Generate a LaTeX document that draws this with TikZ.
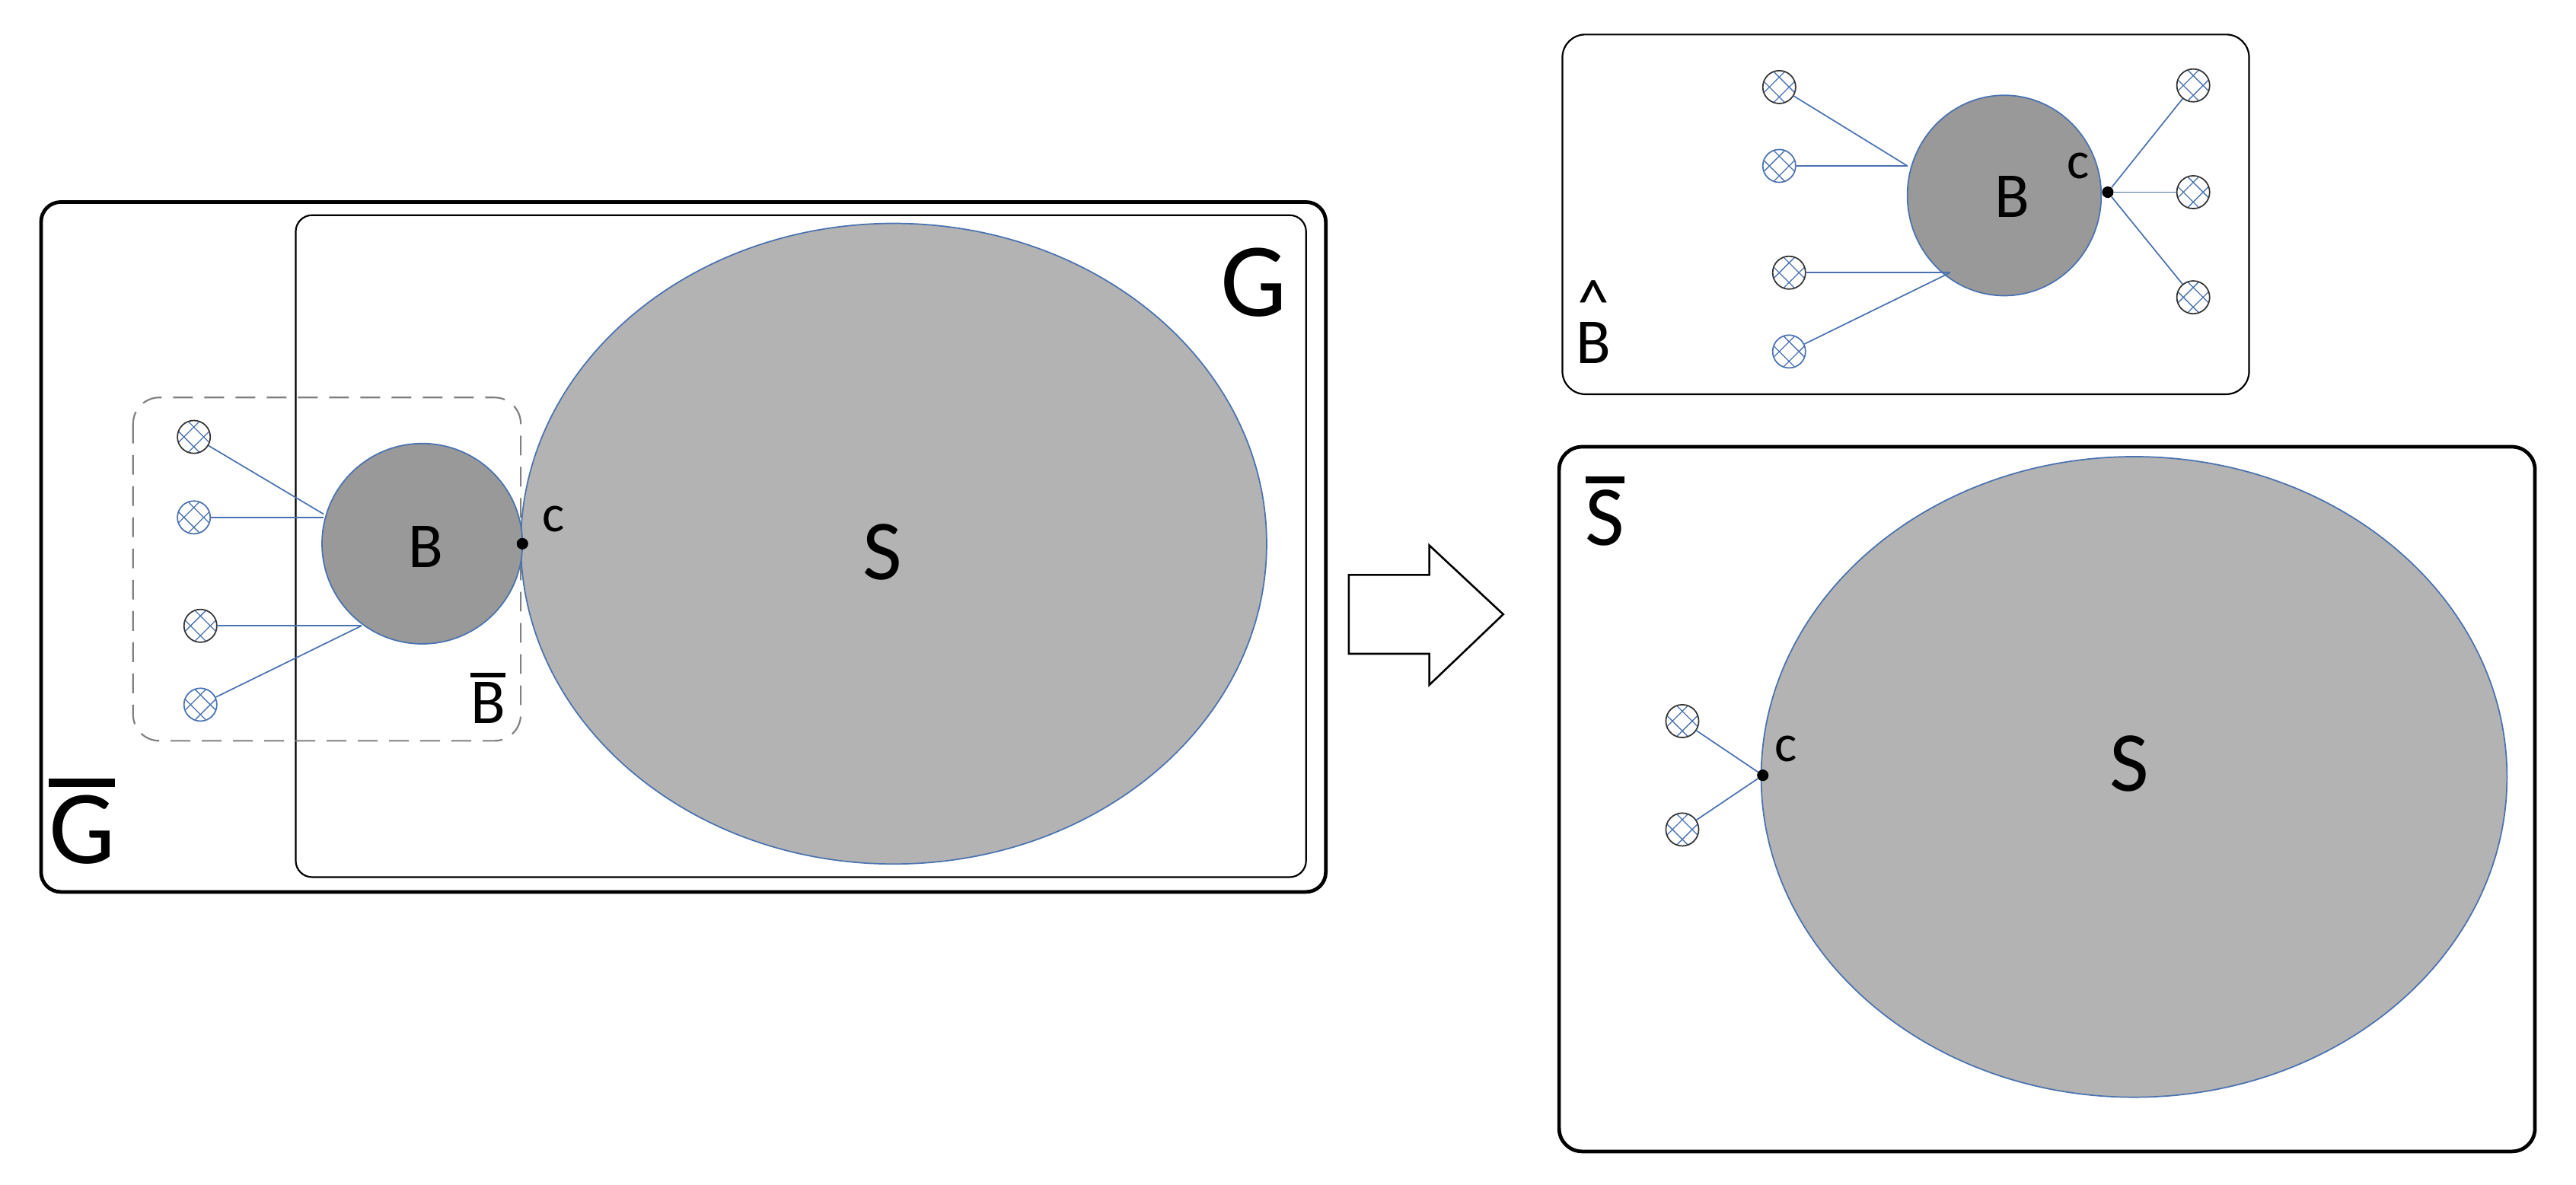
\documentclass[tikz,border=0pt]{standalone}
\usepackage{fontspec}
\setmainfont{Carlito}
\usetikzlibrary{shapes.geometric}
\definecolor{edgeblue}{HTML}{4A72B0}
\definecolor{sgray}{HTML}{B3B3B3}
\definecolor{bgray}{HTML}{999999}
\newcommand{\ovl}[1]{\leavevmode\setbox0\hbox{#1}\rlap{\raisebox{1.12\ht0}{\rule{\wd0}{0.08em}}}\box0}
\newcommand{\hatl}[1]{\leavevmode\setbox0\hbox{#1}\rlap{\makebox[\wd0]{\raisebox{0.95\ht0}{\^{}}}}\box0}
\tikzset{
  hatch/.style={circle,draw=#1,minimum size=20pt,inner sep=0pt,line width=0.8pt,
    path picture={\begin{scope}[shift={(path picture bounding box.center)}]
      \foreach \d in {-6,6}{\draw[edgeblue,line width=0.6pt] (-15+\d,-15) -- (15+\d,15);
                             \draw[edgeblue,line width=0.6pt] (-15+\d,15) -- (15+\d,-15);}
    \end{scope}}},
  link/.style={edgeblue,line width=0.8pt},
  lbl/.style={inner sep=0pt,text=black},
  dot/.style={circle,fill=black,inner sep=0pt,minimum size=7pt},
}
\begin{document}
\begin{tikzpicture}[x=1pt,y=-1pt]
\useasboundingbox (0,0) rectangle (1568,721);
% left part
\draw[line width=2.2pt,rounded corners=12pt] (25,123) rectangle (807,543);
\draw[line width=1pt,rounded corners=10pt] (180,131) rectangle (795,534);
\draw[gray,dashed,dash pattern=on 12pt off 7pt,line width=1pt,rounded corners=16pt] (81,242) rectangle (317,451);
\node[ellipse,draw=edgeblue,fill=sgray,minimum width=454pt,minimum height=390pt,inner sep=0pt,line width=0.8pt] (S1) at (544,331) {};
\node[circle,draw=edgeblue,fill=bgray,minimum size=122pt,inner sep=0pt,line width=0.8pt] (B1) at (257,331) {};
\node[dot] (c1) at (318,331) {};
\node[lbl,font=\fontsize{32}{32}\selectfont] at (337,316) {c};
\node[lbl,font=\fontsize{39}{39}\selectfont] at (259,333) {B};
\node[lbl,font=\fontsize{52}{52}\selectfont] at (537,336) {S};
\node[lbl,font=\fontsize{64}{64}\selectfont] at (763,172) {G};
\node[lbl,font=\fontsize{64}{64}\selectfont] at (50,500) {\ovl{G}};
\node[lbl,font=\fontsize{39}{39}\selectfont] at (297,425) {\ovl{B}};
\node[hatch=black!80] (a1) at (118,266) {};
\node[hatch=edgeblue] (a2) at (118,315) {};
\node[hatch=black!80] (a3) at (122,381) {};
\node[hatch=edgeblue] (a4) at (122,429) {};
\coordinate (p1) at (197,313);
\coordinate (p2) at (220,381);
\draw[link] (a1) -- (p1); \draw[link] (a2) -- (a2 -| p1);
\draw[link] (a3) -- (p2); \draw[link] (a4) -- (p2);
% arrow
\draw[line width=1.2pt,fill=white,line join=miter] (821,350) -- (870,350) -- (870,332) -- (915,374) -- (870,417) -- (870,398) -- (821,398) -- cycle;
% top right
\draw[line width=1pt,rounded corners=14pt] (951,21) rectangle (1369,240);
\node[ellipse,draw=edgeblue,fill=bgray,minimum width=118pt,minimum height=122pt,inner sep=0pt,line width=0.8pt] (B2) at (1220,119) {};
\node[dot] (c2) at (1283,117) {};
\node[lbl,font=\fontsize{32}{32}\selectfont] at (1265,101) {c};
\node[lbl,font=\fontsize{39}{39}\selectfont] at (1225,120) {B};
\node[lbl,font=\fontsize{39}{39}\selectfont] at (970,196) {\hatl{B}};
\node[hatch=black!80] (d1) at (1083,53) {};
\node[hatch=edgeblue] (d2) at (1083,101) {};
\node[hatch=black!80] (d3) at (1089,166) {};
\node[hatch=edgeblue] (d4) at (1089,214) {};
\node[hatch=black!80] (e1) at (1335,52) {};
\node[hatch=black!80] (e2) at (1335,117) {};
\node[hatch=black!80] (e3) at (1335,181) {};
\coordinate (q1) at (1161,101);
\coordinate (q2) at (1187,166);
\draw[link] (d1) -- (q1); \draw[link] (d2) -- (q1);
\draw[link] (d3) -- (q2); \draw[link] (d4) -- (q2);
\draw[link] (c2) -- (e1); \draw[link] (c2) -- (e2); \draw[link] (c2) -- (e3);
% bottom right
\draw[line width=2.2pt,rounded corners=14pt] (949,272) rectangle (1543,701);
\node[ellipse,draw=edgeblue,fill=sgray,minimum width=454pt,minimum height=390pt,inner sep=0pt,line width=0.8pt] (S2) at (1299,473) {};
\node[dot] (c3) at (1073,472) {};
\node[lbl,font=\fontsize{32}{32}\selectfont] at (1087,456) {c};
\node[lbl,font=\fontsize{52}{52}\selectfont] at (1296,465) {S};
\node[lbl,font=\fontsize{52}{52}\selectfont] at (977,311) {\ovl{S}};
\node[hatch=black!80] (f1) at (1024,439) {};
\node[hatch=black!80] (f2) at (1024,505) {};
\draw[link] (f1) -- (c3); \draw[link] (f2) -- (c3);
\end{tikzpicture}
\end{document}
